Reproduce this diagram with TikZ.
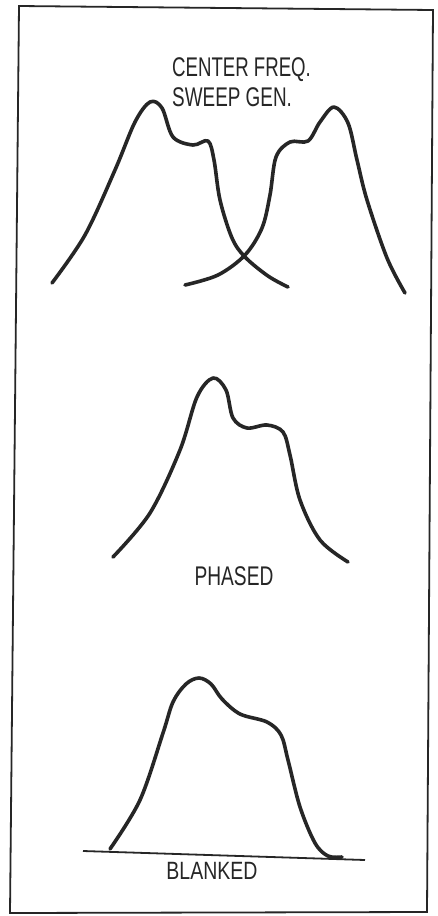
\documentclass[tikz,border=0pt]{standalone}
\usepackage{fontspec}
\setmainfont{Liberation Sans}
\begin{document}
\begin{tikzpicture}[x=1pt,y=-1pt,
  curve/.style={line width=3.6pt, line cap=round, line join=round, black!85},
  frame/.style={line width=1.8pt, black!85},
  lbl/.style={inner sep=0pt, font=\fontsize{27}{31}\selectfont, text=black!85}]
\useasboundingbox (0,0) rectangle (437,916);
\fill[white] (0,0) rectangle (437,916);
% frame
\draw[frame] (19,6) -- (433,10) -- (427,912) -- (10,913) -- cycle;
% top: left curve
\draw[curve] plot[smooth, tension=0.55] coordinates {
  (52,283) (85,235) (115,170) (135,122) (150,102) (162,108) (173,137) (193,145) (208,141)
  (214,160) (220,200) (232,238) (245,257) (268,276) (288,287)};
% top: right curve
\draw[curve] plot[smooth, tension=0.55] coordinates {
  (185,285) (218,275) (245,255) (262,228) (270,195) (276,157) (290,142) (308,141)
  (320,122) (334,107) (348,123) (357,160) (367,200) (387,258) (405,293)};
\node[lbl, anchor=west] (center) at (172,70) {\scalebox{0.69}[1]{CENTER FREQ.}};
\node[lbl, anchor=west] (sweep) at (172,97) {\scalebox{0.7}[1]{SWEEP GEN.}};
% middle curve
\draw[curve] plot[smooth, tension=0.55] coordinates {
  (113,557) (150,513) (180,450) (197,397) (213,378) (226,390) (233,418) (247,428)
  (267,425) (283,432) (290,455) (300,500) (320,540) (348,562)};
\node[lbl] (phased) at (234,576) {\scalebox{0.71}[1]{PHASED}};
% bottom curve
\draw[line width=1.8pt, black!85] (83,851) -- (365,860);
\draw[curve] plot[smooth, tension=0.55] coordinates {
  (110,849) (140,800) (163,733) (173,702) (186,684) (199,678) (211,684) (222,699) (240,714) (267,722)
  (281,735) (288,760) (300,807) (315,843) (328,856) (342,857)};
\node[lbl, font=\fontsize{25}{29}\selectfont] (blanked) at (212,871) {\scalebox{0.78}[1]{BLANKED}};
\end{tikzpicture}
\end{document}
